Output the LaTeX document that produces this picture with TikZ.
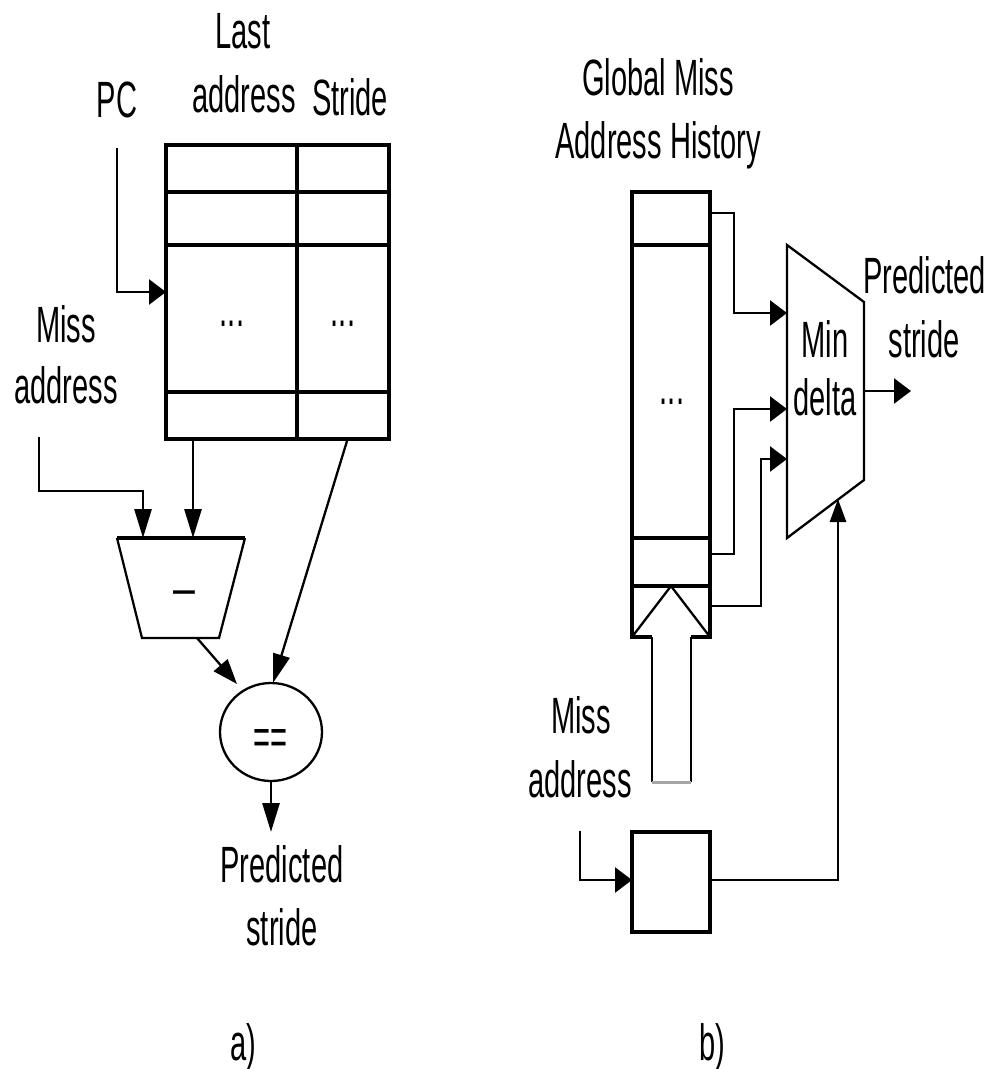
\documentclass[tikz,border=0pt]{standalone}
\usepackage{fontspec}
\setmainfont{Liberation Sans}[FakeStretch=0.57]
\usetikzlibrary{arrows.meta,shapes.geometric}
\begin{document}
\begin{tikzpicture}[x=1pt,y=-1pt,
  lbl/.style={font=\fontsize{51}{63}\selectfont, inner sep=0pt, anchor=base},
  box/.style={line width=3.8pt},
  wire/.style={line width=2.8pt},
  thinl/.style={line width=2.3pt},
  varr/.style={-{Triangle[length=29pt,width=17pt]}},
  varrs/.style={-{Triangle[length=23pt,width=16pt]}},
  harr/.style={-{Triangle[length=17pt,width=25pt]}},
  darr/.style={-{Triangle[length=25pt,width=18pt]}}]
\useasboundingbox (0,0) rectangle (990,1069);

% ---------------- a) ----------------
% table
\draw[box] (166,145) rectangle (389,439);
\foreach \yy in {192,245,392} \draw[box] (166,\yy) -- (389,\yy);
\draw[box] (297,145) -- (297,439);
\node[lbl] (dots1) at (232,326) {...};
\node[lbl] (dots2) at (343,326) {...};

% labels
\node[lbl] (pc) at (117,117) {PC};
\node[lbl] (last1) at (243,48) {Last};
\node[lbl] (last2) at (244,112) {address};
\node[lbl] (stride) at (350,115) {Stride};
\node[lbl] (miss1) at (66,342) {Miss};
\node[lbl] (miss2) at (66,403) {address};

% subtractor
\draw[thinl] (245,538) -- (219,638) -- (142,638) -- (117,538);
\draw[box] (117,538) -- (245,538);
\node[lbl] (minus) at (184,605) {\scalebox{1.35}[1]{–}};

% comparator
\node[draw, ellipse, thinl, minimum width=102pt, minimum height=98pt, inner sep=0pt] (eq) at (271,732) {};
\node[lbl] (eqtxt) at (270,754) {==};

\node[lbl] (pred1) at (282,882) {Predicted};
\node[lbl] (pred2) at (282,945) {stride};
\node[lbl] (la) at (243,1060) {a)};

% connectors a)
\coordinate (pcS) at (117,148);
\coordinate (pcE) at (166,292);
\draw[wire,harr] (pcS) |- (pcE);
\coordinate (maS) at (39,437);
\coordinate (maC) at (39,491);
\coordinate (maE) at (143,538);
\draw[wire,varr] (maS) -- (maC) -| (maE);
\coordinate (tblOut) at (193,439);
\coordinate (subIn) at (193,538);
\draw[wire,varr] (tblOut) -- (subIn);
\coordinate (strS) at (347,441);
\coordinate (strE) at (273,683);
\draw[thinl,varr] (strS) -- (strE);
\coordinate (subOut) at (197,638);
\coordinate (eqIn) at (237,684);
\draw[thinl,darr] (subOut) -- (eqIn);
\coordinate (eqOut) at (271,781);
\coordinate (predE) at (271,832);
\draw[wire,varr] (eqOut) -- (predE);

% ---------------- b) ----------------
\node[lbl] (gm1) at (658,95) {Global Miss};
\node[lbl] (gm2) at (658,158) {Address History};

% history column
\draw[box] (652,637) -- (632,637) -- (632,192) -- (710,192) -- (710,637) -- (691,637);
\foreach \yy in {245,538,586} \draw[box] (632,\yy) -- (710,\yy);
\node[lbl] (dots3) at (672,404) {...};

% hollow arrow
\draw[thinl] (632,637) -- (671,586) -- (710,637);
\draw[wire] (652,637) -- (652,782);
\draw[wire] (691,637) -- (691,782);
\draw[line width=3pt, black!35] (652,782) -- (691,782);

% min-delta unit
\draw[thinl] (787,245) -- (864,302) -- (864,480) -- (787,538) -- cycle;
\node[lbl] (min1) at (825,357) {Min};
\node[lbl] (min2) at (825,415) {delta};
\node[lbl, anchor=base west] (rp1) at (863,293) {Predicted};
\node[lbl] (rp2) at (924,357) {stride};

% register box
\draw[box] (632,832) rectangle (710,932);

\node[lbl] (rm1) at (581,733) {Miss};
\node[lbl] (rm2) at (580,797) {address};
\node[lbl] (lb) at (712,1060) {b)};

% connectors b)
\coordinate (h1) at (710,213);
\coordinate (h1c) at (734,213);
\coordinate (m1) at (787,313);
\draw[wire,harr] (h1) -- (h1c) |- (m1);
\coordinate (h2) at (710,554);
\coordinate (h2c) at (734,554);
\coordinate (m2) at (787,409);
\draw[wire,harr] (h2) -- (h2c) |- (m2);
\coordinate (h3) at (710,606);
\coordinate (h3c) at (761,606);
\coordinate (m3) at (787,459);
\draw[wire,harr] (h3) -- (h3c) |- (m3);
\coordinate (mo) at (864,391);
\coordinate (moE) at (911,391);
\draw[wire,harr] (mo) -- (moE);
\coordinate (rin) at (580,831);
\coordinate (rinE) at (632,880);
\draw[wire,harr] (rin) |- (rinE);
\coordinate (rout) at (710,880);
\coordinate (routC) at (838,880);
\coordinate (mb) at (838,499);
\draw[wire,varrs] (rout) -- (routC) -- (mb);
\end{tikzpicture}
\end{document}
